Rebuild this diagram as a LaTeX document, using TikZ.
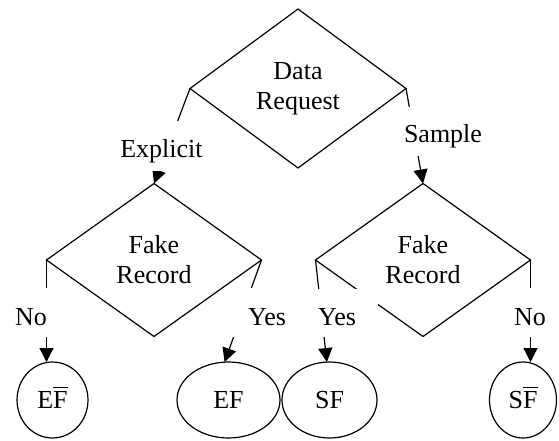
\documentclass[tikz,border=0pt]{standalone}
\usepackage{fontspec}
\setmainfont{Liberation Serif}
\usetikzlibrary{shapes.geometric,arrows.meta}
\newcommand{\barredF}{\rlap{\raisebox{20.5pt}[0pt][0pt]{\rule{14.5pt}{1.2pt}}}F}
\begin{document}
\begin{tikzpicture}[x=1pt,y=-1pt,
  txt/.style={font=\fontsize{26}{30}\selectfont},
  dec/.style={txt,shape=diamond,draw,line width=1.2pt,inner sep=0pt,outer sep=0pt,align=center},
  leaf/.style={txt,shape=ellipse,draw,line width=1.2pt,inner sep=0pt,outer sep=0pt,minimum height=76pt},
  conn/.style={line width=1.2pt,-{Triangle[length=14pt,width=14pt]}},
  lbl/.style={txt,fill=white,inner xsep=3pt,inner ysep=2pt,anchor=base},
]
\useasboundingbox (0,0) rectangle (559,440);
% decision diamonds
\node[dec,minimum width=216pt,minimum height=159pt] (top) at (298,88.5) {Data\\Request};
\node[dec,minimum width=215pt,minimum height=153pt] (fl) at (154,260) {Fake\\Record};
\node[dec,minimum width=215pt,minimum height=153pt] (fr) at (423,260) {Fake\\Record};
% leaves
\node[leaf,minimum width=71pt] (efb) at (52.5,400) {E\barredF};
\node[leaf,minimum width=103pt] (ef) at (228.5,400) {EF};
\node[leaf,minimum width=95pt] (sf) at (329.5,400) {SF};
\node[leaf,minimum width=67pt] (sfb) at (523,400) {S\barredF};
% connectors
\draw[conn] (top.west) -- (fl.north);
\draw[conn] (top.east) -- (fr.north);
\draw[conn] (fl.west) -- (fl.west |- efb.north);
\draw[conn] (fl.east) -- (ef.96);
\draw[conn] (fr.west) -- (sf.94);
\draw[conn] (fr.east) -- (fr.east |- sfb.north);
% labels
\node[lbl,text height=34pt,text depth=12pt] (lexp) at (161.5,157) {Explicit};
\node[lbl,text height=33pt,text depth=12pt] (lsam) at (443,142) {Sample};
\node[lbl,text height=35pt,text depth=10pt] (lno1) at (31,325) {No};
\node[lbl,text height=35pt,text depth=10pt,minimum width=74pt] (lyes1) at (267,325) {Yes};
\node[lbl,text height=34pt,text depth=10pt,minimum width=82pt] (lyes2) at (337,325) {Yes};
\node[lbl,text height=35pt,text depth=10pt] (lno2) at (530,325) {No};
\end{tikzpicture}
\end{document}
